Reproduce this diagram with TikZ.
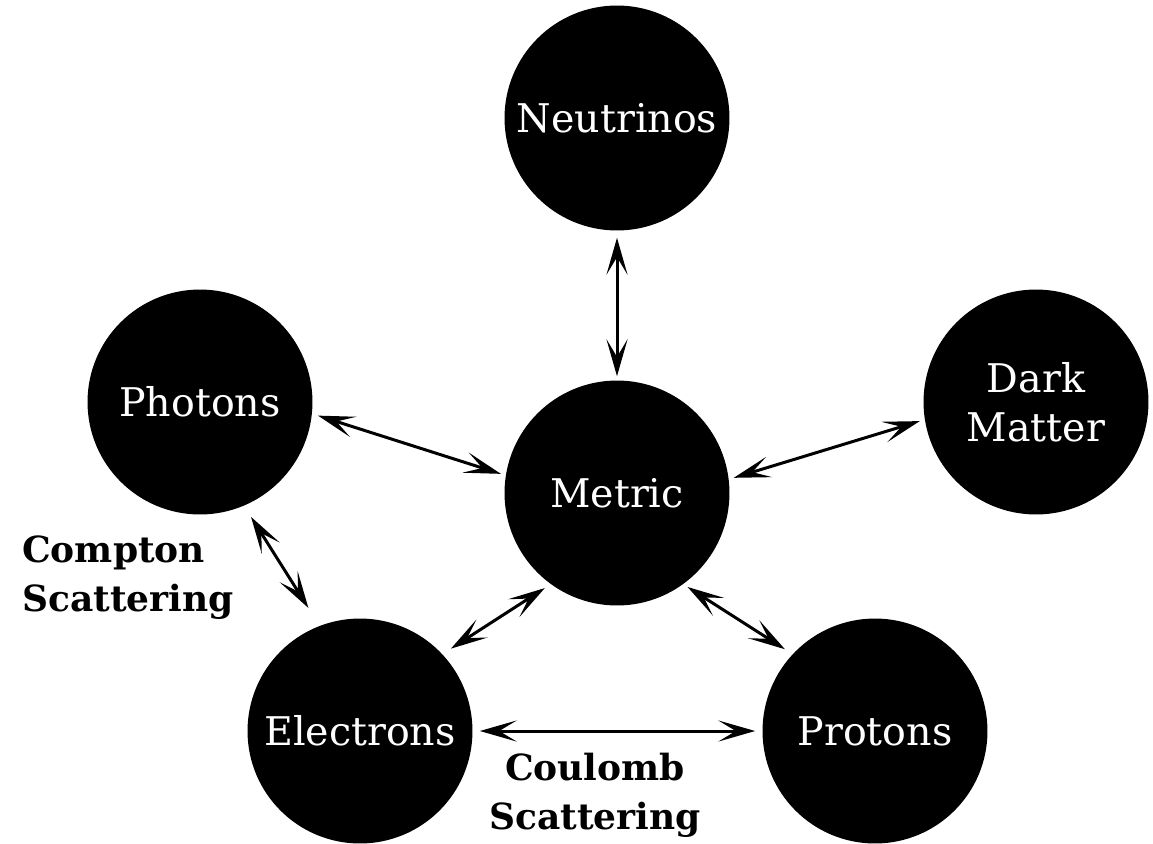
\documentclass[tikz,border=0pt]{standalone}
\usepackage{fontspec}
\setmainfont{DejaVu Serif}
\usetikzlibrary{arrows.meta}

\tikzset{
  ball/.style={circle,fill=black,minimum size=4.5cm,inner sep=0pt,
    text=white,align=center,font=\fontsize{22.5}{28}\selectfont},
  link/.style={{Stealth[length=21pt,width=12pt,inset=10pt]}-{Stealth[length=21pt,width=12pt,inset=10pt]},
    line width=1.7pt},
  note/.style={font=\bfseries\fontsize{20.5}{28}\selectfont}
}

\begin{document}
\begin{tikzpicture}[x=0.02cm,y=-0.02cm]
\useasboundingbox (0,0) rectangle (1153,843);

%circles
\node[ball](nu) at (617,118){Neutrinos};
\node[ball](ph) at (200,402){Photons};
\node[ball](dm) at (1036,402){Dark\\Matter};
\node[ball](me) at (617,493){Metric};
\node[ball](el) at (360,731){Electrons};
\node[ball](pr) at (875,731){Protons};

%arrows
\draw[link,shorten <=0.14cm,shorten >=0.08cm](nu.-90)--(me.90);
\draw[link,shorten <=0.12cm,shorten >=0.1cm](ph.-6)--(me.171);
\draw[link,shorten <=0.1cm,shorten >=0.1cm](me.7)--(dm.-171);
\draw[link,shorten <=0.26cm,shorten >=0.42cm](ph.-67)--(el.111);
\draw[link,shorten <=0.2cm,shorten >=0.14cm](el.43)--(me.-126);
\draw[link,shorten <=0.1cm,shorten >=0.18cm](me.-54)--(pr.137);
\draw[link,shorten <=0.14cm,shorten >=0.14cm](el.0)--(pr.180);

%labels
\node[note,align=left,anchor=west](compton) at (16,578){Compton\\Scattering};
\node[note,align=center](coulomb) at (595,795){Coulomb\\Scattering};
\end{tikzpicture}
\end{document}
